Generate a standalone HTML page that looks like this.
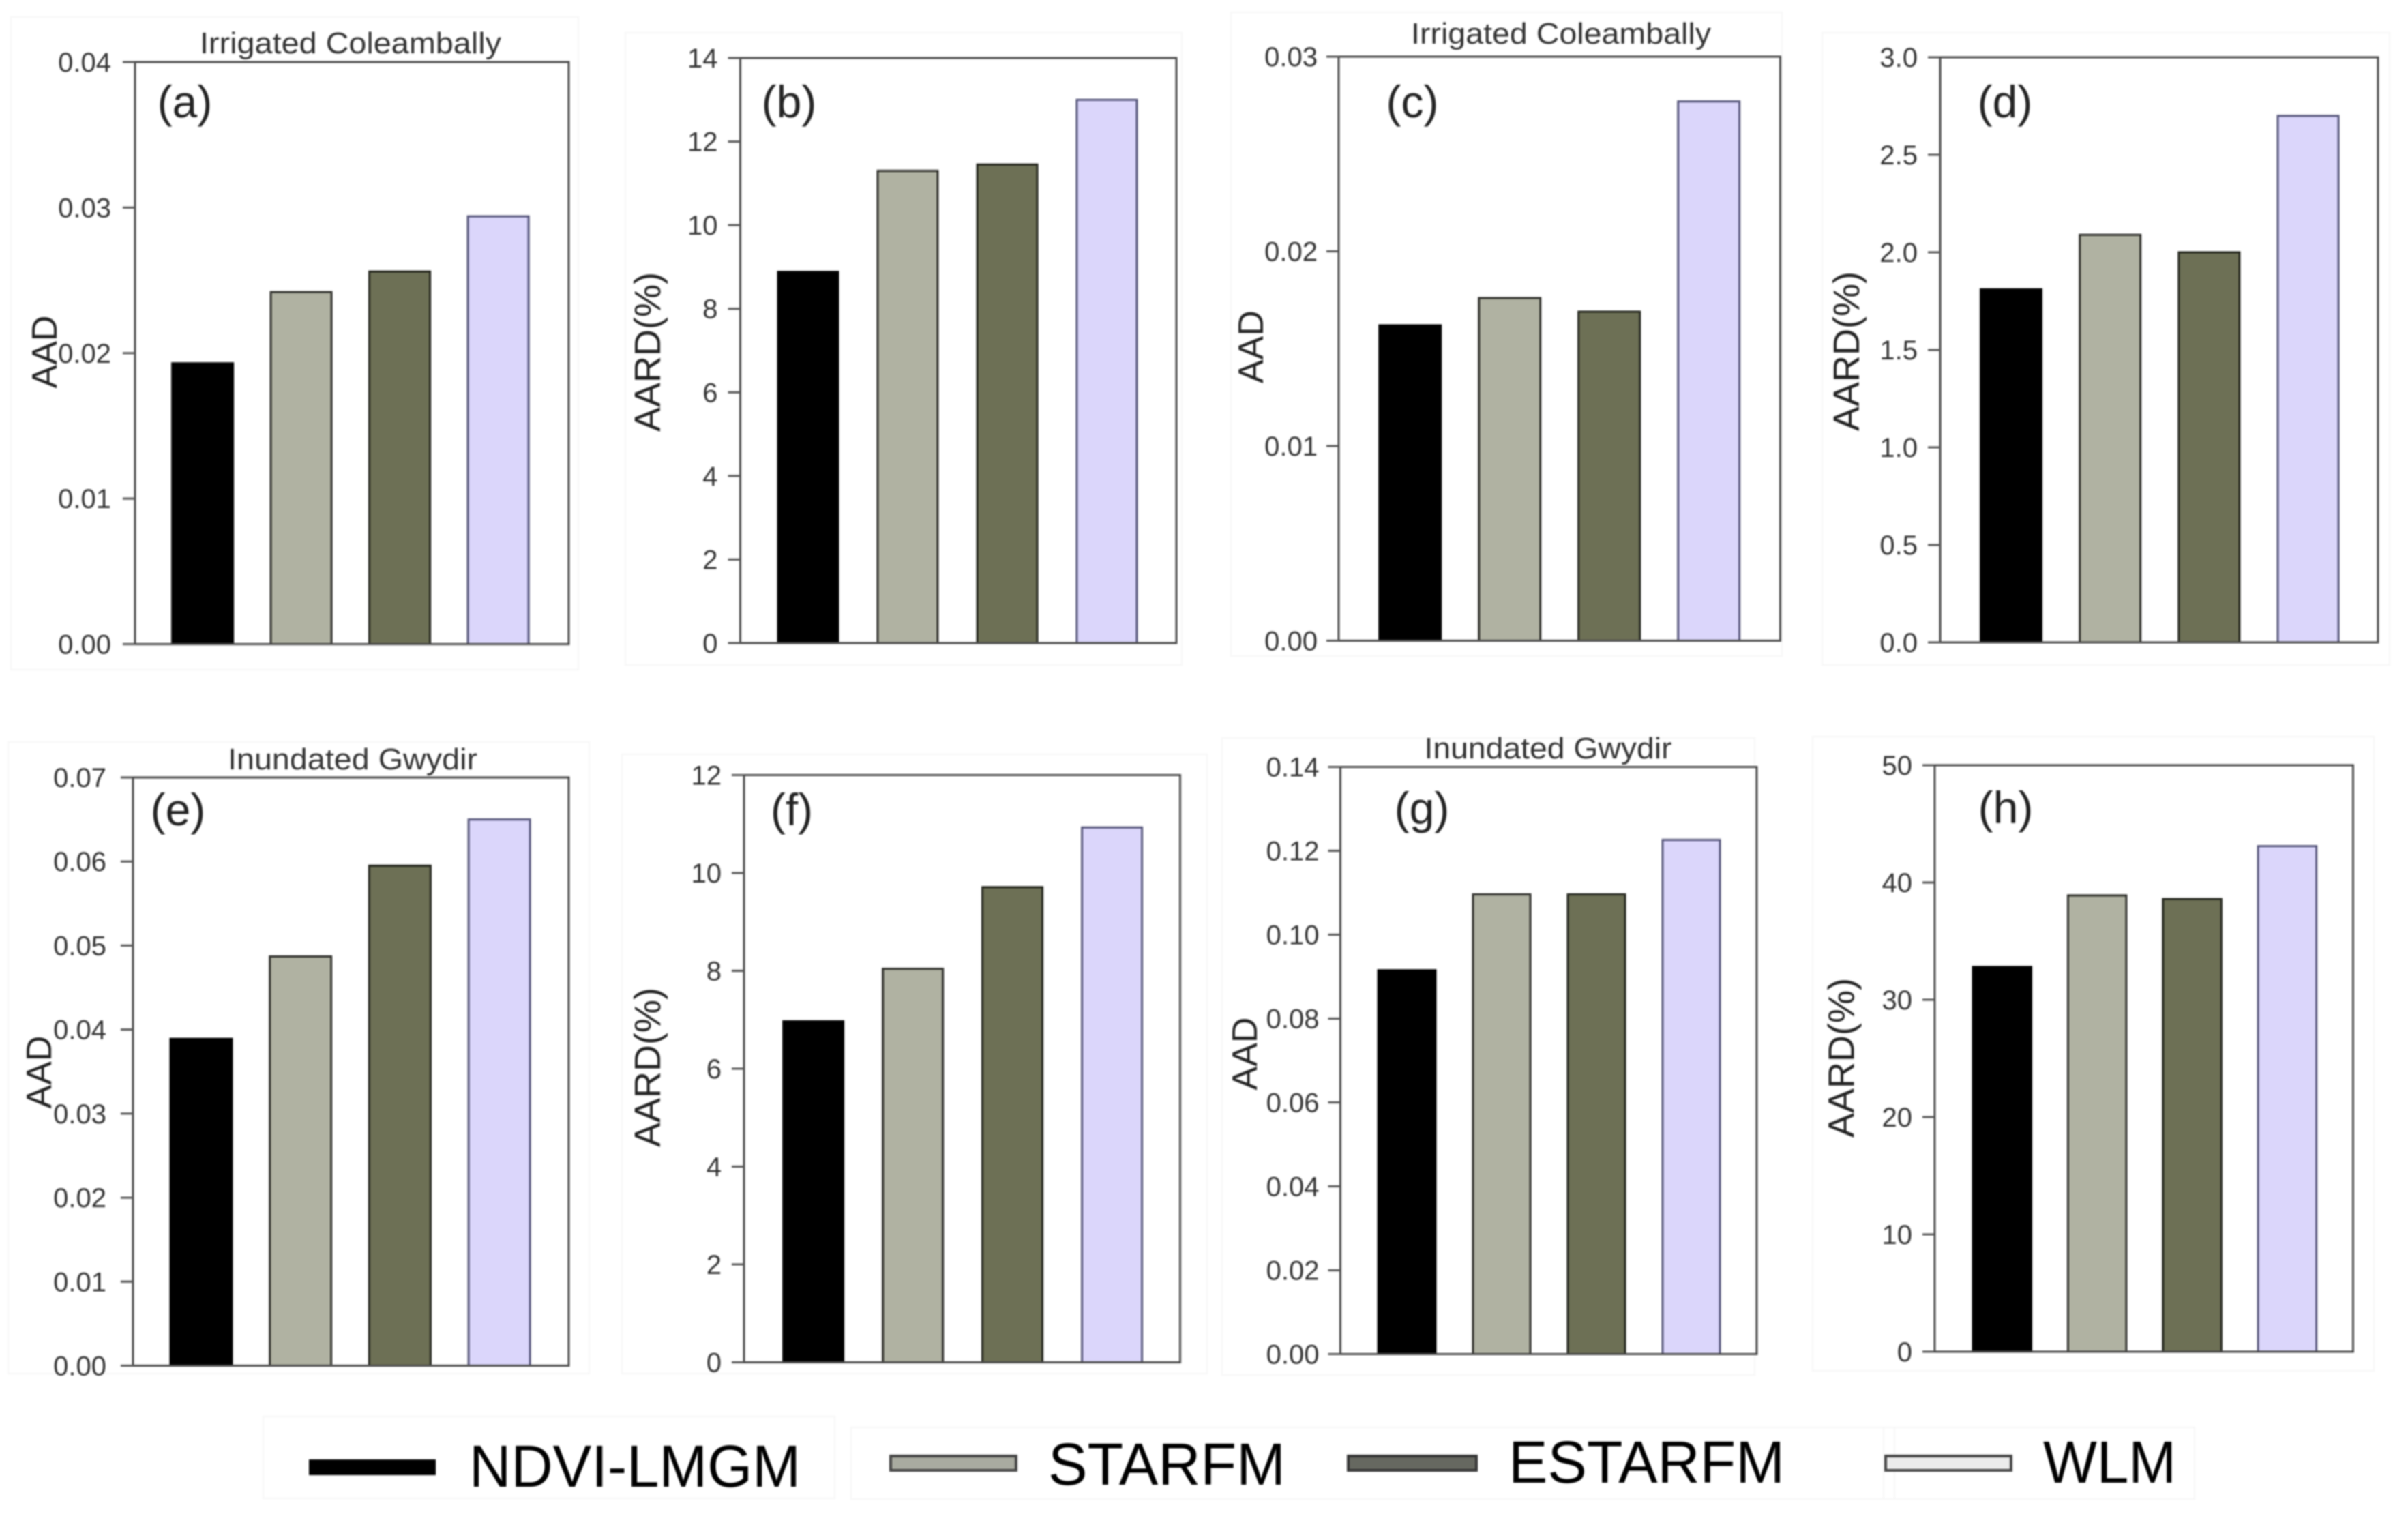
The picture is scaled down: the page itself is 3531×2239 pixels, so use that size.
<!DOCTYPE html>
<html lang="en">
<head>
<meta charset="utf-8">
<title>AAD and AARD bar charts</title>
<style>
html,body{margin:0;padding:0;background:#fff;}
#figure{display:block;width:3531px;height:2239px;font-family:"Liberation Sans",sans-serif;filter:blur(1.1px);}
text{font-family:"Liberation Sans",sans-serif;}
</style>
</head>
<body>
<svg id="figure" xmlns="http://www.w3.org/2000/svg" width="3531" height="2239" viewBox="0 0 3531 2239">
<g id="legend">
<rect x="386" y="2077" width="838" height="120" fill="none" stroke="#f6f6f6" stroke-width="2"/>
<rect x="1248" y="2093" width="1530" height="105" fill="none" stroke="#f6f6f6" stroke-width="2"/>
<rect x="2762" y="2093" width="456" height="105" fill="none" stroke="#f6f6f6" stroke-width="2"/>
<rect x="453" y="2140" width="186" height="23" fill="#000"/>
<text x="688" y="2180" font-size="87" textLength="486" lengthAdjust="spacingAndGlyphs" fill="#000">NDVI-LMGM</text>
<rect x="1306" y="2135" width="184" height="21" fill="#a9aba0" stroke="#444" stroke-width="4"/>
<text x="1537" y="2177" font-size="87" textLength="348" lengthAdjust="spacingAndGlyphs" fill="#000">STARFM</text>
<rect x="1977" y="2135" width="188" height="21" fill="#666860" stroke="#333" stroke-width="4"/>
<text x="2212" y="2174" font-size="87" textLength="405" lengthAdjust="spacingAndGlyphs" fill="#000">ESTARFM</text>
<rect x="2765" y="2135" width="184" height="21" fill="#ececec" stroke="#444" stroke-width="4"/>
<text x="2996" y="2174" font-size="87" textLength="195" lengthAdjust="spacingAndGlyphs" fill="#000">WLM</text>
</g>
</svg>
<script>
// Chart data
const categories = ['NDVI-LMGM', 'STARFM', 'ESTARFM', 'WLM'];
const valuesA = [0.0193, 0.0242, 0.0256, 0.0294];
const valuesB = [8.88, 11.3, 11.45, 13.0];
const valuesC = [0.0162, 0.0176, 0.0169, 0.0277];
const valuesD = [1.81, 2.09, 2.0, 2.70];
const valuesE = [0.0389, 0.0487, 0.0595, 0.065];
const valuesF = [6.97, 8.04, 9.71, 10.93];
const valuesG = [0.0915, 0.1096, 0.1096, 0.1226];
const valuesH = [32.8, 38.9, 38.6, 43.1];
const ticksA = ['0.00', '0.01', '0.02', '0.03', '0.04'];
const ticksB = ['0', '2', '4', '6', '8', '10', '12', '14'];
const ticksC = ['0.00', '0.01', '0.02', '0.03'];
const ticksD = ['0.0', '0.5', '1.0', '1.5', '2.0', '2.5', '3.0'];
const ticksE = ['0.00', '0.01', '0.02', '0.03', '0.04', '0.05', '0.06', '0.07'];
const ticksF = ['0', '2', '4', '6', '8', '10', '12'];
const ticksG = ['0.00', '0.02', '0.04', '0.06', '0.08', '0.10', '0.12', '0.14'];
const ticksH = ['0', '10', '20', '30', '40', '50'];
const barFills = ['#000000', '#b0b2a2', '#6d7055', '#dbd6fb'];
const barStrokes = ['#000000', '#2e2e2a', '#22241c', '#55557a'];

const panelLayouts = [
  {id:'a', values:valuesA, ticks:ticksA, yTitle:'AAD', title:'Irrigated Coleambally', L:198, R:834, T:91, B:944.5, start:54.6, step:144.5, w:89, yx:83, yy:516, lx:271, ly:172, tx:514, ty:78, tw:442, gap:35, f:[16,25,848,982]},
  {id:'b', values:valuesB, ticks:ticksB, yTitle:'AARD(%)', title:'', L:1085.5, R:1725, T:85, B:943, start:55.5, step:146, w:88, yx:968, yy:516, lx:1157, ly:172, f:[917,48,1733,975]},
  {id:'c', values:valuesC, ticks:ticksC, yTitle:'AAD', title:'Irrigated Coleambally', L:1963, R:2610.5, T:83, B:939.5, start:59.7, step:146, w:90, yx:1852, yy:508.6, lx:2071, ly:172, tx:2289, ty:64, tw:440, gap:31, f:[1805,18,2613,962]},
  {id:'d', values:valuesD, ticks:ticksD, yTitle:'AARD(%)', title:'', L:2845, R:3487, T:84, B:942, start:59.5, step:145.2, w:89, yx:2726, yy:515, lx:2940, ly:172, f:[2672,48,3504,975]},
  {id:'e', values:valuesE, ticks:ticksE, yTitle:'AAD', title:'Inundated Gwydir', L:195, R:834, T:1140, B:2002.5, start:55, step:145.7, w:90, yx:75, yy:1572, lx:261, ly:1210, tx:517, ty:1128, tw:366, gap:39, f:[12,1088,864,2014]},
  {id:'f', values:valuesF, ticks:ticksF, yTitle:'AARD(%)', title:'', L:1091, R:1730.5, T:1136.5, B:1997.5, start:57.6, step:146, w:88, yx:968, yy:1565, lx:1161, ly:1210, f:[912,1106,1770,2014]},
  {id:'g', values:valuesG, ticks:ticksG, yTitle:'AAD', title:'Inundated Gwydir', L:1965.5, R:2576, T:1124.5, B:1985.5, start:55.5, step:139, w:84, yx:1843, yy:1545, lx:2085, ly:1208, tx:2270, ty:1112, tw:363, gap:31, f:[1792,1082,2573,2016]},
  {id:'h', values:valuesH, ticks:ticksH, yTitle:'AARD(%)', title:'', L:2837, R:3450.5, T:1122, B:1982, start:56, step:139.4, w:85.5, yx:2718.5, yy:1551, lx:2941, ly:1207, f:[2658,1080,3481,2010]}
];

const SVGNS = 'http://www.w3.org/2000/svg';
const svg = document.getElementById('figure');

function make(parent, tag, attrs) {
  const el = document.createElementNS(SVGNS, tag);
  for (const k in attrs) el.setAttribute(k, attrs[k]);
  parent.appendChild(el);
  return el;
}
function yAxisFn(p) {
  const maxV = parseFloat(p.ticks[p.ticks.length - 1]);
  return function (v) { return p.B - (v / maxV) * (p.B - p.T); };
}
function xBandFn(p) {
  return function (i) { return p.L + p.start + i * p.step; };
}

panelLayouts.forEach(function (p) {
  const y = yAxisFn(p);
  const x = xBandFn(p);
  const g = make(svg, 'g', {});
  
  

  const frame = make(g, 'rect', {x:p.f[0], y:p.f[1], width:p.f[2]-p.f[0], height:p.f[3]-p.f[1], fill:'none', stroke:'#f6f6f6', 'stroke-width':2});
  
  

  p.values.forEach(function (v, i) {
    const top = y(v);
    const bar = make(g, 'rect', {x:x(i), y:top, width:p.w, height:p.B - top, fill:barFills[i], stroke:barStrokes[i], 'stroke-width':3});
    
    
  });

  const plot = make(g, 'rect', {x:p.L, y:p.T, width:p.R - p.L, height:p.B - p.T, fill:'none', stroke:'#4a4a4a', 'stroke-width':3});
  
  

  p.ticks.forEach(function (t) {
    const ty = y(parseFloat(t));
    const mark = make(g, 'line', {x1:p.L - 18, x2:p.L, y1:ty, y2:ty, stroke:'#555', 'stroke-width':3});
    
    
    const lab = make(g, 'text', {x:p.L - (p.gap || 33), y:ty + 14, 'font-size':40, 'text-anchor':'end', fill:'#333'});
    lab.textContent = t;
    
    
  });

  const yTitle = make(g, 'text', {x:0, y:0, 'font-size':p.yTitle === 'AAD' ? 52 : 54, 'text-anchor':'middle', fill:'#222', transform:'translate(' + p.yx + ',' + p.yy + ') rotate(-90)'});
  yTitle.textContent = p.yTitle;
  
  

  const letter = make(g, 'text', {x:p.lx, y:p.ly, 'font-size':66, 'text-anchor':'middle', fill:'#222'});
  letter.textContent = '(' + p.id + ')';
  
  

  if (p.title) {
    const title = make(g, 'text', {x:p.tx, y:p.ty, 'font-size':44, 'text-anchor':'middle', textLength:p.tw, lengthAdjust:'spacingAndGlyphs', fill:'#333'});
    title.textContent = p.title;
    
    
  }
});
</script>
</body>
</html>
